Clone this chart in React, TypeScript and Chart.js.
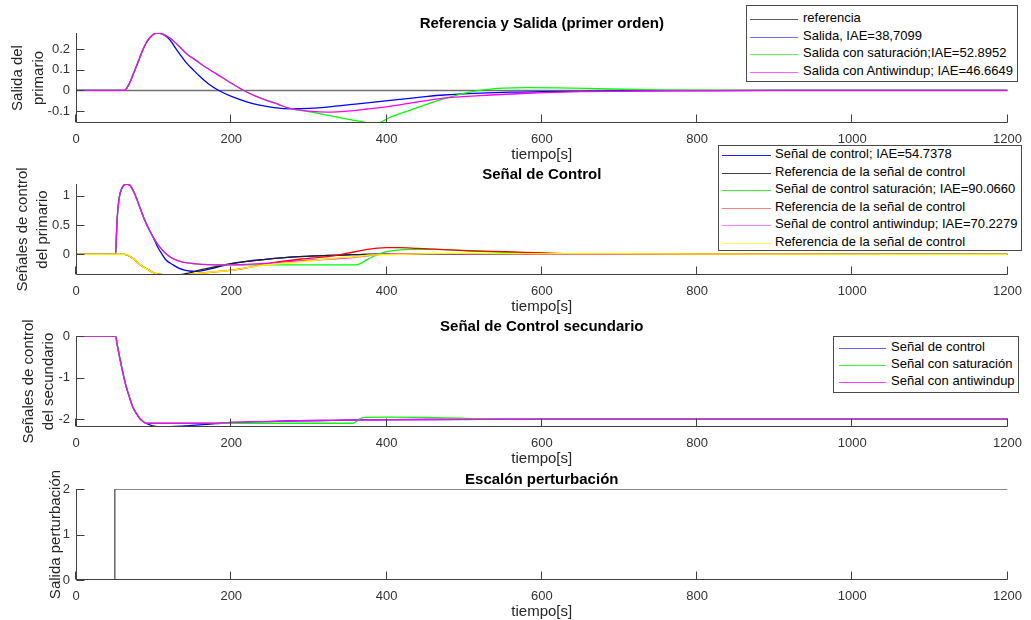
import React, { useEffect, useRef } from "react";
import { Chart, registerables } from "chart.js";
Chart.register(...registerables);

const FONT = '"Liberation Sans", Arial, Helvetica, sans-serif';

// ---------- DATA ----------
const xTicks = [0, 200, 400, 600, 800, 1000, 1200];

// Plot 1: Referencia y Salida (primer orden)
const t1Ref = [0, 1200];
const v1Ref = [0, 0];
const t1Salida = [0, 63, 66, 69, 73, 77.6, 82, 86, 90, 95, 100, 105, 112, 120, 130, 142, 150, 159, 170, 184, 201, 220, 235, 255, 278, 300, 330, 360, 390, 420, 450, 474, 520, 560, 602, 650, 700, 800, 900, 1200];
const v1Salida = [0, 0, 0.015, 0.035, 0.072, 0.115, 0.158, 0.196, 0.228, 0.256, 0.273, 0.279, 0.272, 0.25, 0.196, 0.135, 0.104, 0.07, 0.034, 0, -0.03, -0.055, -0.07, -0.083, -0.089, -0.087, -0.078, -0.066, -0.054, -0.042, -0.03, -0.022, -0.013, -0.008, -0.006, -0.004, -0.002, -0.001, 0, 0];
const t1Sat = [0, 63, 66, 69, 73, 77.6, 82, 86, 90, 95, 100, 105, 112, 120, 130, 142, 155, 167, 180, 198, 216, 230, 244, 260, 274, 300, 330, 360, 380, 392, 402, 431, 457, 480, 504, 530, 551, 580, 620, 687, 750, 815, 900, 1200];
const v1Sat = [0, 0, 0.015, 0.035, 0.072, 0.115, 0.158, 0.196, 0.228, 0.256, 0.273, 0.279, 0.274, 0.257, 0.225, 0.18, 0.145, 0.113, 0.083, 0.04, 0, -0.025, -0.046, -0.066, -0.086, -0.103, -0.125, -0.146, -0.158, -0.155, -0.135, -0.095, -0.06, -0.033, -0.01, 0.005, 0.011, 0.014, 0.013, 0.007, 0.003, 0.001, 0, 0];
const t1Anti = [0, 63, 66, 69, 73, 77.6, 82, 86, 90, 95, 100, 105, 112, 120, 130, 142, 155, 167, 180, 198, 216, 230, 244, 260, 274, 300, 325, 350, 375, 402, 430, 474, 520, 568, 602, 650, 700, 750, 800, 900, 1200];
const v1Anti = [0, 0, 0.015, 0.035, 0.072, 0.115, 0.158, 0.196, 0.228, 0.256, 0.273, 0.279, 0.274, 0.257, 0.225, 0.18, 0.145, 0.113, 0.083, 0.04, 0, -0.025, -0.046, -0.066, -0.086, -0.1, -0.105, -0.1, -0.09, -0.078, -0.062, -0.037, -0.025, -0.016, -0.011, -0.006, -0.004, -0.002, -0.001, 0, 0];

// Plot 2: Señal de Control
const t2Ctl = [0, 51, 52, 53, 55, 57, 60, 65, 70, 76, 82, 88, 94.7, 100, 105, 110, 116, 125, 133, 140, 146, 155, 165, 180, 201, 220, 244, 265, 287, 310, 329, 350, 372, 400, 450, 600, 1200];
const v2Ctl = [0, 0, 0.3, 0.6, 0.9, 1.05, 1.15, 1.2, 1.17, 1.02, 0.81, 0.6, 0.41, 0.27, 0.13, 0.02, -0.097, -0.18, -0.24, -0.27, -0.285, -0.29, -0.275, -0.225, -0.16, -0.12, -0.086, -0.06, -0.04, -0.026, -0.017, -0.008, 0, 0.003, 0.002, 0, 0];
const t2RefCtl = [0, 63, 70, 76, 85, 94, 103, 112, 120, 133, 145, 159, 180, 201, 220, 244, 265, 287, 310, 329, 350, 372, 400, 500, 1200];
const v2RefCtl = [0, 0, -0.04, -0.1, -0.2, -0.27, -0.33, -0.348, -0.353, -0.35, -0.32, -0.27, -0.21, -0.155, -0.12, -0.086, -0.06, -0.04, -0.026, -0.017, -0.008, 0, 0.003, 0.002, 0];
const t2Sat = [0, 51, 52, 53, 55, 57, 60, 65, 70, 76, 82, 88, 94.7, 101, 107.5, 116, 124.5, 133, 141.5, 155, 170, 190, 361, 375, 389, 400, 414, 430, 466, 500, 551, 600, 636, 700, 800, 1200];
const v2Sat = [0, 0, 0.3, 0.6, 0.9, 1.05, 1.15, 1.2, 1.17, 1.02, 0.81, 0.6, 0.41, 0.26, 0.13, 0.01, -0.07, -0.115, -0.143, -0.163, -0.175, -0.18, -0.18, -0.09, 0, 0.045, 0.073, 0.085, 0.083, 0.065, 0.035, 0.015, 0.01, 0.005, 0.002, 0];
const t2RefSat = [0, 63, 70, 76, 85, 94, 103, 112, 120, 135, 150, 170, 201, 220, 250, 290, 329, 350, 370, 389, 400, 415, 440, 466, 508, 551, 619, 700, 800, 1200];
const v2RefSat = [0, 0, -0.04, -0.1, -0.2, -0.27, -0.33, -0.345, -0.352, -0.353, -0.34, -0.31, -0.27, -0.23, -0.15, -0.08, -0.03, 0.02, 0.07, 0.105, 0.113, 0.113, 0.1, 0.085, 0.06, 0.045, 0.017, 0.008, 0.003, 0];
const t2Anti = [0, 51, 52, 53, 55, 57, 60, 65, 70, 76, 82, 88, 94.7, 101, 107.5, 116, 124.5, 133, 141.5, 155, 170, 185, 201, 220, 244, 270, 300, 338, 360, 394, 420, 450, 500, 600, 1200];
const v2Anti = [0, 0, 0.3, 0.6, 0.9, 1.05, 1.15, 1.2, 1.17, 1.02, 0.81, 0.6, 0.41, 0.26, 0.13, 0.01, -0.07, -0.115, -0.143, -0.163, -0.175, -0.18, -0.18, -0.172, -0.155, -0.13, -0.1, -0.075, -0.05, 0, 0.01, 0.012, 0.01, 0.005, 0];
const t2RefAnti = [0, 63, 70, 76, 85, 94, 103, 112, 120, 135, 150, 170, 201, 220, 244, 270, 295, 329, 360, 380, 414, 450, 500, 600, 800, 1200];
const v2RefAnti = [0, 0, -0.04, -0.1, -0.2, -0.27, -0.33, -0.345, -0.352, -0.353, -0.34, -0.31, -0.27, -0.23, -0.18, -0.15, -0.12, -0.07, -0.04, -0.012, 0, 0.01, 0.012, 0.01, 0.005, 0];

// Plot 3: Señal de Control secundario
const t3Ctl = [0, 51, 53, 56, 60, 64.5, 69, 73, 78, 82, 86, 90, 95, 102, 110, 120, 140, 159, 180, 201, 240, 287, 330, 372, 450, 600, 1200];
const v3Ctl = [0, 0, -0.2, -0.49, -0.85, -1.21, -1.48, -1.7, -1.87, -1.98, -2.05, -2.1, -2.14, -2.175, -2.185, -2.18, -2.165, -2.14, -2.11, -2.08, -2.06, -2.04, -2.03, -2.02, -2.01, -2.0, -2.0];
const t3Sat = [0, 51, 53, 56, 60, 64.5, 69, 73, 78, 82, 86, 90, 100, 175, 357, 365, 372, 400, 450, 495, 580, 1200];
const v3Sat = [0, 0, -0.2, -0.49, -0.85, -1.21, -1.48, -1.7, -1.87, -1.98, -2.05, -2.1, -2.1, -2.1, -2.1, -2.0, -1.96, -1.95, -1.96, -1.98, -2.0, -2.0];
const t3Anti = [0, 51, 53, 56, 60, 64.5, 69, 73, 78, 82, 86, 90, 100, 175, 201, 240, 287, 330, 372, 450, 600, 1200];
const v3Anti = [0, 0, -0.2, -0.49, -0.85, -1.21, -1.48, -1.7, -1.87, -1.98, -2.05, -2.1, -2.1, -2.1, -2.08, -2.06, -2.04, -2.03, -2.02, -2.01, -2.0, -2.0];

// Plot 4: Escalón perturbación
const t4Step = [0, 50, 50, 1200];
const v4Step = [0, 0, 2, 2];

// Y ticks per panel
const y1Ticks = [-0.1, 0, 0.1, 0.2];
const y2Ticks = [0, 0.5, 1];
const y3Ticks = [-2, -1, 0];
const y4Ticks = [0, 1, 2];

// Legend labels
const legend1Labels = ["referencia", "Salida, IAE=38,7099", "Salida con saturación;IAE=52.8952", "Salida con Antiwindup; IAE=46.6649"];
const legend2Labels = ["Señal de control; IAE=54.7378", "Referencia de la señal de control", "Señal de control saturación; IAE=90.0660", "Referencia de la señal de control", "Señal de control antiwindup; IAE=70.2279", "Referencia de la señal de control"];
const legend3Labels = ["Señal de control", "Señal con saturación", "Señal con antiwindup"];

// ---------- LAYOUT ----------
const W = 1031;
const PLOT_LEFT = 76;
const PLOT_RIGHT = 1014;
const Y_AXIS_W = 46;
const X_AXIS_H = 24;
const TOP_SPACE = 33;
const BOTTOM_SPACE = 40;

type Series = { t: number[]; v: number[]; color: string; width?: number };
type Panel = {
  plotTop: number; plotBottom: number; yMin: number; yMax: number; yTicks: number[];
  title: string; yLabel: string[]; yLabelX: number[]; series: Series[]; smooth: boolean;
};

const panels: Panel[] = [
  {
    plotTop: 33, plotBottom: 123, yMin: -0.158, yMax: 0.279, yTicks: y1Ticks,
    title: "Referencia y Salida (primer orden)", yLabel: ["Salida del", "primario"], yLabelX: [18, 39], smooth: true,
    series: [
      { t: t1Ref, v: v1Ref, color: "#707070", width: 1.6 },
      { t: t1Salida, v: v1Salida, color: "#0000ff" },
      { t: t1Sat, v: v1Sat, color: "#00ff00" },
      { t: t1Anti, v: v1Anti, color: "#ff00ff" },
    ],
  },
  {
    plotTop: 184, plotBottom: 275, yMin: -0.353, yMax: 1.2, yTicks: y2Ticks,
    title: "Señal de Control", yLabel: ["Señales de control", "del primario"], yLabelX: [23, 43], smooth: true,
    series: [
      { t: t2Ctl, v: v2Ctl, color: "#0000ff" },
      { t: t2RefCtl, v: v2RefCtl, color: "#222222" },
      { t: t2Sat, v: v2Sat, color: "#00ff00" },
      { t: t2RefSat, v: v2RefSat, color: "#ff0000" },
      { t: t2Anti, v: v2Anti, color: "#ff00ff" },
      { t: t2RefAnti, v: v2RefAnti, color: "#ffee00", width: 1.5 },
    ],
  },
  {
    plotTop: 336, plotBottom: 427, yMin: -2.19, yMax: 0, yTicks: y3Ticks,
    title: "Señal de Control secundario", yLabel: ["Señales de control", "del secundario"], yLabelX: [29, 49], smooth: true,
    series: [
      { t: t3Ctl, v: v3Ctl, color: "#0000ff" },
      { t: t3Sat, v: v3Sat, color: "#00ff00" },
      { t: t3Anti, v: v3Anti, color: "#ff00ff" },
    ],
  },
  {
    plotTop: 489, plotBottom: 580, yMin: 0, yMax: 2, yTicks: y4Ticks,
    title: "Escalón perturbación", yLabel: ["Salida perturbación"], yLabelX: [56], smooth: false,
    series: [{ t: t4Step, v: v4Step, color: "#666666", width: 1.5 }],
  },
];

const pts = (t: number[], v: number[]) => t.map((x, i) => ({ x, y: v[i] }));

function PanelChart({ p }: { p: Panel }) {
  const ref = useRef<HTMLCanvasElement>(null);
  const canvasTop = p.plotTop - TOP_SPACE;
  const canvasH = p.plotBottom - p.plotTop + TOP_SPACE + BOTTOM_SPACE;

  useEffect(() => {
    if (!ref.current) return;
    const plugin = {
      id: "matlabAxes",
      afterDraw(chart: any) {
        const { ctx, chartArea: ca, scales } = chart;
        ctx.save();
        ctx.strokeStyle = "#404040";
        ctx.lineWidth = 1;
        const L = Math.round(ca.left) + 0.5;
        const B = Math.round(ca.bottom) - 0.5;
        ctx.beginPath();
        ctx.moveTo(L, ca.top);
        ctx.lineTo(L, B);
        ctx.lineTo(ca.right, B);
        ctx.stroke();
        ctx.beginPath();
        for (const tk of scales.x.ticks) {
          const px = Math.round(scales.x.getPixelForValue(tk.value)) - 0.5;
          ctx.moveTo(px, B);
          ctx.lineTo(px, B - 8);
        }
        for (const tk of scales.y.ticks) {
          const py = Math.round(scales.y.getPixelForValue(tk.value)) + 0.5;
          ctx.moveTo(L, py);
          ctx.lineTo(L + 8, py);
        }
        ctx.stroke();
        const cx = (ca.left + ca.right) / 2;
        const cy = (ca.top + ca.bottom) / 2;
        ctx.fillStyle = "#000";
        ctx.textAlign = "center";
        ctx.textBaseline = "alphabetic";
        ctx.font = `bold 15px ${FONT}`;
        ctx.fillText(p.title, cx, ca.top - 5);
        ctx.font = `15px ${FONT}`;
        ctx.fillStyle = "#262626";
        ctx.fillText("tiempo[s]", cx, ca.bottom + 36);
        ctx.textBaseline = "middle";
        p.yLabel.forEach((line, i) => {
          ctx.save();
          ctx.translate(p.yLabelX[i], cy);
          ctx.rotate(-Math.PI / 2);
          ctx.fillText(line, 0, 0);
          ctx.restore();
        });
        ctx.restore();
      },
    };
    const n = p.series.length;
    const chart = new Chart(ref.current, {
      type: "scatter",
      data: {
        datasets: p.series.map((s, i) => ({
          data: pts(s.t, s.v),
          showLine: true,
          borderColor: s.color,
          backgroundColor: s.color,
          borderWidth: s.width ?? 1.3,
          pointRadius: 0,
          pointHoverRadius: 0,
          cubicInterpolationMode: p.smooth ? "monotone" : "default",
          tension: 0,
          order: n - i,
        })),
      },
      options: {
        responsive: false,
        animation: false,
        events: [],
        layout: {
          padding: {
            left: PLOT_LEFT - Y_AXIS_W,
            right: W - PLOT_RIGHT,
            top: TOP_SPACE,
            bottom: BOTTOM_SPACE - X_AXIS_H,
          },
        },
        plugins: { legend: { display: false }, tooltip: { enabled: false }, title: { display: false } },
        scales: {
          x: {
            type: "linear",
            min: 0,
            max: 1200,
            afterBuildTicks: (s: any) => { s.ticks = xTicks.map((value) => ({ value })); },
            afterFit: (s: any) => { s.height = X_AXIS_H; },
            grid: { display: false, drawTicks: false },
            border: { display: false },
            ticks: {
              padding: 9, autoSkip: false, maxRotation: 0, color: "#333",
              font: { size: 13, family: FONT },
              callback: (v: any) => String(v),
            },
          },
          y: {
            type: "linear",
            min: p.yMin,
            max: p.yMax,
            afterBuildTicks: (s: any) => { s.ticks = p.yTicks.map((value) => ({ value })); },
            afterFit: (s: any) => { s.width = Y_AXIS_W; },
            grid: { display: false, drawTicks: false },
            border: { display: false },
            ticks: {
              padding: 6, color: "#333",
              font: { size: 13, family: FONT },
              callback: (v: any) => String(Math.round(Number(v) * 1000) / 1000),
            },
          },
        },
      } as any,
      plugins: [plugin],
    });
    return () => chart.destroy();
  }, []);

  return (
    <canvas
      ref={ref}
      width={W}
      height={canvasH}
      style={{ position: "absolute", left: 0, top: canvasTop, width: W, height: canvasH }}
    />
  );
}

type LegendProps = {
  left: number; top: number; width: number; height: number;
  firstRow: number; rowH: number; lineX0: number; lineX1: number; textX: number;
  labels: string[]; colors: string[];
};

function Legend(l: LegendProps) {
  return (
    <div
      style={{
        position: "absolute", left: l.left, top: l.top, width: l.width, height: l.height,
        boxSizing: "border-box", border: "1px solid #4a4a4a", background: "#fff", zIndex: 5,
      }}
    >
      {l.labels.map((lab, i) => {
        const cy = l.firstRow + i * l.rowH - l.top - 1;
        return (
          <React.Fragment key={i}>
            <div style={{ position: "absolute", left: l.lineX0 - l.left - 1, top: Math.round(cy) - 0.5, width: l.lineX1 - l.lineX0, height: 1, background: l.colors[i] }} />
            <div style={{ position: "absolute", left: l.textX - l.left - 1, top: cy - 9, height: 18, lineHeight: "18px", font: `13px ${FONT}`, color: "#000", whiteSpace: "nowrap" }}>{lab}</div>
          </React.Fragment>
        );
      })}
    </div>
  );
}

export default function App() {
  return (
    <div style={{ position: "fixed", left: 0, top: 0, width: W, height: 620, background: "#fff", overflow: "hidden" }}>
      {panels.map((p, i) => <PanelChart key={i} p={p} />)}
      <Legend left={746} top={5} width={272} height={77} firstRow={19} rowH={17.7} lineX0={750} lineX1={798} textX={803}
        labels={legend1Labels} colors={["#606060", "#7070ff", "#60f060", "#ff60ff"]} />
      <Legend left={718} top={145} width={304} height={106} firstRow={155} rowH={17.5} lineX0={722} lineX1={771} textX={775}
        labels={legend2Labels} colors={["#2020ff", "#404040", "#40f040", "#ff8080", "#ff80ff", "#ffff50"]} />
      <Legend left={833} top={336} width={186} height={57} firstRow={348.3} rowH={17} lineX0={839} lineX1={886} textX={891}
        labels={legend3Labels} colors={["#6060ff", "#40f040", "#ff40ff"]} />
    </div>
  );
}
